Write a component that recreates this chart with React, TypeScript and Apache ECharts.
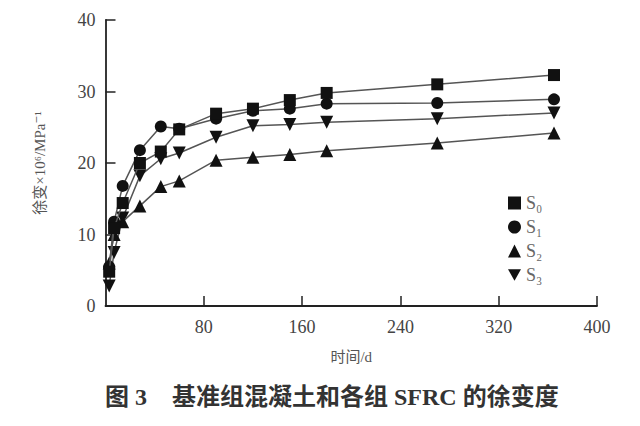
import React, { useEffect, useRef } from "react";
import * as echarts from "echarts";

const days = [3, 7, 14, 28, 45, 60, 90, 120, 150, 180, 270, 365];
const s0Values = [4.8, 10.9, 14.4, 20.0, 21.6, 24.7, 26.9, 27.6, 28.8, 29.8, 31.0, 32.3];
const s1Values = [5.5, 11.8, 16.8, 21.8, 25.1, 24.8, 26.2, 27.3, 27.6, 28.3, 28.4, 28.9];
const s2Values = [6.0, 10.0, 11.8, 14.0, 16.7, 17.5, 20.4, 20.8, 21.2, 21.7, 22.8, 24.2];
const s3Values = [2.8, 7.5, 12.3, 18.2, 20.6, 21.4, 23.6, 25.2, 25.4, 25.7, 26.2, 27.0];
const seriesNames = ["S₀", "S₁", "S₂", "S₃"];
const xTicks = { min: 0, max: 400, interval: 80 };
const yTicks = { min: 0, max: 40, interval: 10 };

const downTri = "path://M0,0 L10,0 L5,9 Z";
const symbols = ["rect", "circle", "triangle", downTri];
const symbolSizes = [12, 12, 13, 13];

const SERIF = "'Liberation Serif', 'DejaVu Serif', 'Noto Sans CJK SC', serif";

export default function App() {
  const ref = useRef<HTMLDivElement>(null);
  useEffect(() => {
    if (!ref.current) return;
    const chart = echarts.init(ref.current, undefined, { renderer: "svg" });
    const all = [s0Values, s1Values, s2Values, s3Values];
    const series = all.map((vals, i) => ({
      name: seriesNames[i],
      type: "line",
      data: days.map((d, j) => [d, vals[j]]),
      symbol: symbols[i],
      symbolSize: symbolSizes[i],
      showAllSymbol: true,
      z: 10 - i,
      lineStyle: { color: "#555", width: 1.5 },
      itemStyle: { color: "#111", borderWidth: 0 },
    }));
    chart.setOption({
      animation: false,
      backgroundColor: "#fff",
      grid: { left: 105.5, right: 43, top: 20, bottom: 120, containLabel: false },
      legend: {
        orient: "vertical",
        left: 503,
        top: 189,
        itemWidth: 13,
        itemHeight: 13,
        itemGap: 6,
        data: seriesNames.map((n, i) => ({ name: n, icon: symbols[i] })),
        textStyle: { fontFamily: SERIF, fontSize: 18, color: "#666" },
      },
      xAxis: {
        type: "value",
        min: xTicks.min,
        max: xTicks.max,
        interval: xTicks.interval,
        name: "时间/d",
        nameLocation: "middle",
        nameGap: 43,
        nameTextStyle: { fontFamily: SERIF, fontSize: 15, color: "#555" },
        axisLine: { lineStyle: { color: "#222", width: 1.8 } },
        axisTick: { inside: true, length: 10, lineStyle: { color: "#222", width: 1.5 } },
        axisLabel: {
          showMinLabel: false,
          margin: 12,
          fontFamily: SERIF,
          fontSize: 18,
          color: "#444",
        },
        splitLine: { show: false },
      },
      yAxis: {
        type: "value",
        min: yTicks.min,
        max: yTicks.max,
        interval: yTicks.interval,
        name: "徐变×10⁶/MPa⁻¹",
        nameLocation: "middle",
        nameGap: 58,
        nameTextStyle: { fontFamily: SERIF, fontSize: 15, color: "#555" },
        axisLine: { show: true, lineStyle: { color: "#222", width: 1.8 } },
        axisTick: { show: true, inside: true, length: 10, lineStyle: { color: "#222", width: 1.5 } },
        axisLabel: { margin: 10, fontFamily: SERIF, fontSize: 18, color: "#444" },
        splitLine: { show: false },
      },
      graphic: [
        {
          type: "text",
          left: 105,
          top: 385,
          style: {
            text: "图 3",
            fontFamily: SERIF,
            fontSize: 24,
            fontWeight: "bold",
            fill: "#333",
          },
        },
        {
          type: "text",
          left: 172,
          top: 385,
          style: {
            text: "基准组混凝土和各组 SFRC 的徐变度",
            fontFamily: SERIF,
            fontSize: 24,
            fontWeight: "bold",
            fill: "#333",
          },
        },
      ],
      series,
    });
    return () => chart.dispose();
  }, []);
  return (
    <div
      ref={ref}
      style={{ position: "fixed", left: 0, top: 0, width: 640, height: 426, background: "#fff" }}
    />
  );
}
